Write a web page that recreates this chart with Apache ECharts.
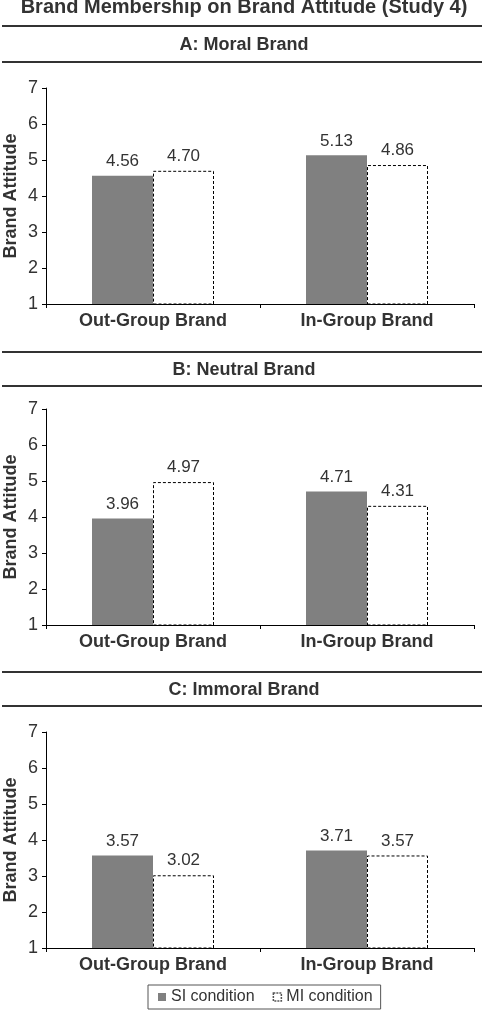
<!DOCTYPE html>
<html style="height: 100%">
<head>
    <meta charset="utf-8">
</head>
<body style="height: 100%; margin: 0; background: #fff">
<div id="study4_container" style="height: 1028px; width: 488px"></div>
<script src="https://cdn.jsdelivr.net/npm/echarts@6/dist/echarts.min.js"></script>
<script type="text/javascript">
    var categories = ['Out-Group Brand', 'In-Group Brand'];
    var panelTitles = ['A: Moral Brand', 'B: Neutral Brand', 'C: Immoral Brand'];
    // SI / MI condition means per panel (moral, neutral, immoral)
    var siValues = [[4.56, 5.13], [3.96, 4.71], [3.57, 3.71]];
    var miValues = [[4.70, 4.86], [4.97, 4.31], [3.02, 3.57]];
    var yTicks = [1, 7];

    var study4_dom = document.getElementById('study4_container');
    var study4_chart = echarts.init(study4_dom);
    var textColor = '#333';
    var fontFam = '"Liberation Sans", Arial, sans-serif';

    // panel layout: grid tops and header rule positions
    var gridTops = [88, 409, 732];
    var ruleTops = [[26, 62], [352, 386], [672, 706]];
    var headerY = [44, 369, 689];

    var grids = [], xAxes = [], yAxes = [], series = [], titles = [], graphics = [];

    titles.push({
        text: 'Brand Membership on Brand Attitude (Study 4)',
        left: 'center',
        top: -3,
        padding: 0,
        textStyle: { fontFamily: fontFam, fontSize: 20, fontWeight: 'bold', color: textColor }
    });

    function valueLabel() {
        return {
            show: true, position: 'top', distance: 6,
            formatter: function (p) { return p.value.toFixed(2); },
            fontFamily: fontFam, fontSize: 17, color: textColor
        };
    }

    for (var i = 0; i < 3; i++) {
        grids.push({ left: 46, right: 14, top: gridTops[i], height: 216, outerBoundsMode: 'none' });

        xAxes.push({
            type: 'category',
            gridIndex: i,
            data: categories,
            axisLine: { lineStyle: { color: '#000', width: 1 } },
            axisTick: { show: true, length: 4, lineStyle: { color: '#000' } },
            axisLabel: {
                margin: 8,
                fontFamily: fontFam, fontSize: 18, fontWeight: 'bold', color: textColor
            }
        });

        yAxes.push({
            type: 'value',
            gridIndex: i,
            min: yTicks[0],
            max: yTicks[1],
            interval: 1,
            name: 'Brand Attitude',
            nameLocation: 'middle',
            nameGap: 26,
            nameMoveOverlap: false,
            nameTextStyle: { fontFamily: fontFam, fontSize: 18, fontWeight: 'bold', color: textColor },
            axisLine: { show: true, lineStyle: { color: '#000', width: 1 } },
            axisTick: { show: true, length: 4, lineStyle: { color: '#000' } },
            axisLabel: { margin: 8, fontFamily: fontFam, fontSize: 18, color: textColor },
            splitLine: { show: false }
        });

        series.push({
            name: 'SI condition',
            type: 'bar',
            xAxisIndex: i,
            yAxisIndex: i,
            barWidth: 61,
            barGap: '0%',
            itemStyle: { color: '#808080' },
            label: valueLabel(),
            data: siValues[i]
        });
        series.push({
            name: 'MI condition',
            type: 'bar',
            xAxisIndex: i,
            yAxisIndex: i,
            barWidth: 61,
            barGap: '0%',
            itemStyle: { color: '#fff', borderColor: '#000', borderWidth: 1, borderType: [3, 2] },
            label: valueLabel(),
            data: miValues[i]
        });

        titles.push({
            text: panelTitles[i],
            left: 'center',
            top: headerY[i] - 8,
            padding: 0,
            textStyle: { fontFamily: fontFam, fontSize: 18, fontWeight: 'bold', color: textColor }
        });

        for (var k = 0; k < 2; k++) {
            graphics.push({
                type: 'line',
                shape: { x1: 2, y1: ruleTops[i][k], x2: 482, y2: ruleTops[i][k] },
                style: { stroke: '#333', lineWidth: 2 }
            });
        }
    }

    var study4_option = {
        backgroundColor: '#fff',
        animation: false,
        title: titles,
        grid: grids,
        xAxis: xAxes,
        yAxis: yAxes,
        series: series,
        graphic: graphics,
        legend: {
            left: 148,
            top: 985,
            itemWidth: 8,
            itemHeight: 8,
            itemGap: 18,
            padding: [4, 8, 4, 10],
            borderColor: '#555',
            borderWidth: 1,
            textStyle: { fontFamily: fontFam, fontSize: 16, color: textColor },
            data: [
                { name: 'SI condition', icon: 'rect', itemStyle: { color: '#808080', borderWidth: 0 } },
                { name: 'MI condition', icon: 'rect', itemStyle: { color: '#fff', borderColor: '#555', borderWidth: 1.5, borderType: [2, 1] } }
            ]
        }
    };

    study4_chart.setOption(study4_option, true);
</script>
</body>
</html>
